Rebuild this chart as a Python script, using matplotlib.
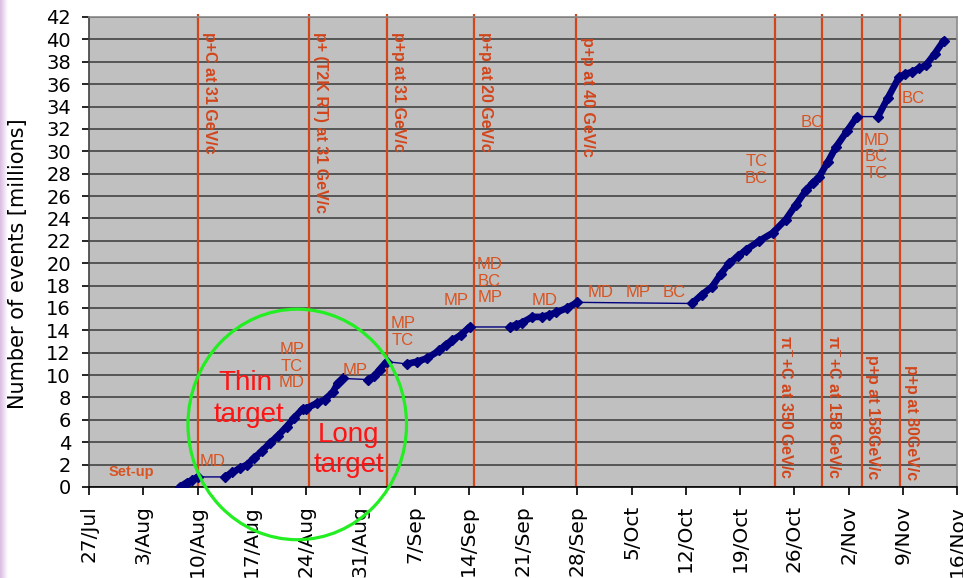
import numpy as np
import matplotlib
matplotlib.use("Agg")
import matplotlib.pyplot as plt
from matplotlib.patches import Ellipse

# Days counted from 27 July; cumulative recorded events in millions
days = [11.7, 12.6, 13.3, 14.0,
        17.5, 18.5, 19.5, 20.4, 21.3, 22.3, 23.3, 24.4, 25.5, 26.5, 27.6,
        28.0, 29.4, 30.4, 31.5, 32.1, 32.8,
        36.0, 36.8, 37.5, 38.4,
        41.0, 42.3, 43.6, 45.2, 46.0, 46.9, 48.0, 49.1,
        54.3, 55.1, 55.9, 57.2, 58.5, 59.4, 60.3, 61.7, 63.0,
        77.8, 79.1, 80.4, 81.5, 82.6, 83.7, 84.8, 86.5, 88.2, 89.9, 91.2,
        92.5, 93.4, 94.2, 95.3, 96.4, 97.8, 99.1,
        101.8, 103.1, 104.5, 105.3, 106.2, 107.1, 108.0, 109.1, 110.3]
events = [0.0, 0.4, 0.6, 0.9,
          0.9, 1.3, 1.7, 2.0, 2.6, 3.2, 3.9, 4.6, 5.4, 6.2, 7.0,
          7.0, 7.5, 7.8, 8.5, 9.3, 9.7,
          9.6, 9.9, 10.5, 11.2,
          11.0, 11.2, 11.5, 12.2, 12.7, 13.1, 13.6, 14.3,
          14.3, 14.5, 14.7, 15.2, 15.2, 15.4, 15.6, 16.0, 16.5,
          16.4, 17.2, 17.9, 19.0, 20.0, 20.6, 21.2, 22.0, 22.7, 23.9, 25.2,
          26.5, 27.2, 27.7, 29.0, 30.4, 31.8, 33.1,
          33.1, 34.8, 36.6, 36.9, 37.1, 37.4, 37.7, 38.7, 39.9]

tick_days = list(range(0, 113, 7))
tick_labels = ["27/Jul", "3/Aug", "10/Aug", "17/Aug", "24/Aug", "31/Aug",
               "7/Sep", "14/Sep", "21/Sep", "28/Sep", "5/Oct", "12/Oct",
               "19/Oct", "26/Oct", "2/Nov", "9/Nov", "16/Nov"]

# Beam / setting changes
change_days = [14.1, 28.4, 38.5, 49.7, 62.9, 88.5, 94.6, 99.7, 104.7]
change_labels = ["p+C at 31 GeV/c", "p+ (T2K RT) at 31 GeV/c",
                 "p+p at 31 GeV/c", "p+p at 20 GeV/c", "p+p at 40 GeV/c",
                 "\u03c0$^{-}$+C at 350 GeV/c", "\u03c0$^{-}$+C at 158 GeV/c",
                 "p+p at 158GeV/c", "p+p at 80GeV/c"]

# Short interruption notes
notes = ["Set-up", "MD", "MP\nTC\nMD", "MP", "MP\nTC", "MP", "MD\nBC\nMP",
         "MD", "MD", "MP", "BC", "TC\nBC", "BC", "MD\nBC\nTC", "BC"]
note_pos = [(5.5, 1.35), (16.0, 2.25), (26.2, 10.8), (34.3, 10.45),
            (40.5, 13.85), (47.4, 16.7), (51.7, 18.4), (58.8, 16.7),
            (66.0, 17.35), (70.9, 17.35), (75.5, 17.35), (86.1, 28.3),
            (93.3, 32.6), (101.6, 29.5), (106.4, 34.75)]

ORANGE = "#D2461C"
NOTE = "#D85422"
NAVY = "#00007E"

fig = plt.figure(figsize=(9.63, 5.78), dpi=100)
fig.patch.set_facecolor("white")

# faint lilac band on the left border
band = fig.add_axes([0, 0, 8 / 963, 1])
grad = np.linspace(0, 1, 64)[None, :]
band.imshow(grad, aspect="auto", cmap=matplotlib.colors.LinearSegmentedColormap.from_list(
    "lilac", ["#D9BCE2", "#FFFFFF"]), extent=[0, 1, 0, 1])
band.axis("off")

ax = fig.add_axes([89 / 963, 1 - 487 / 578, 868 / 963, 470 / 578])
ax.set_facecolor("#C0C0C0")
ax.set_xlim(0, 112)
ax.set_ylim(0, 42)

ax.set_yticks(range(0, 43, 2))
ax.yaxis.grid(True, color="#444444", lw=1.2)
ax.set_axisbelow(True)
ax.set_xticks(tick_days)
ax.set_xticklabels(tick_labels, rotation=90, fontsize=14.5, family="DejaVu Sans")
for lab in ax.get_yticklabels():
    lab.set_fontsize(14)
    lab.set_family("DejaVu Sans")
ax.tick_params(axis="x", length=6, width=1.2, pad=7, direction="out")
ax.tick_params(axis="y", length=5, width=1.2, pad=8, direction="out")

ax.spines["top"].set_color("#8A8A8A")
ax.spines["right"].set_color("#8A8A8A")
ax.spines["left"].set_color("#404040")
ax.spines["bottom"].set_color("#000000")
for s in ax.spines.values():
    s.set_linewidth(1.2)

# vertical lines marking setting changes
ax.vlines(change_days, 0, 42.3, colors=ORANGE, lw=1.6, clip_on=False, zorder=2)
for i, (d, txt) in enumerate(zip(change_days, change_labels)):
    if i < 5:
        y, va = (40.65 if i < 4 else 40.2), "top"
    else:
        y, va = 0.65, "bottom"
    ax.annotate(txt, xy=(d, y), xytext=(2.5, 0), textcoords="offset points",
                rotation=-90, ha="left", va=va, color=ORANGE, fontsize=11.5,
                fontweight="bold", family=["Liberation Sans", "DejaVu Sans"],
                zorder=3)

# cumulative events: thin line across pauses, thick markers while taking data
d = np.array(days)
v = np.array(events)
ax.plot(d, v, color=NAVY, lw=1.0, zorder=4)
breaks = np.where(np.diff(d) > 2.2)[0] + 1
for rd, rv in zip(np.split(d, breaks), np.split(v, breaks)):
    ax.plot(rd, rv, color=NAVY, lw=4.8, marker="D", ms=5,
            solid_joinstyle="round", solid_capstyle="round", zorder=5)

for txt, (x, y) in zip(notes, note_pos):
    if txt == "Set-up":
        ax.text(x, y, txt, color=NOTE, fontsize=10.5, fontweight="bold",
                ha="center", va="center", family="Liberation Sans", zorder=6)
    else:
        ax.text(x, y, txt, color=NOTE, fontsize=12, ha="center", va="center",
                linespacing=1.15, family="Liberation Sans", zorder=6)

RED = "#FF1414"
for txt, x, y in [("Thin", 20.2, 9.3), ("target", 20.6, 6.45),
                  ("Long", 33.5, 4.65), ("target", 33.5, 1.97)]:
    ax.text(x, y, txt, color=RED, fontsize=20, ha="center", va="center",
            family="Liberation Sans", zorder=6)

ax.add_patch(Ellipse((26.87, 5.59), 28.2, 20.6, fill=False, ec="#22EE22",
                     lw=2.3, clip_on=False, zorder=7))

fig.text(18 / 963, 1 - 264 / 578, "Number of events [millions]", rotation=90,
         ha="center", va="center", fontsize=15, family="DejaVu Sans")

fig.savefig("out.png", dpi=100)
